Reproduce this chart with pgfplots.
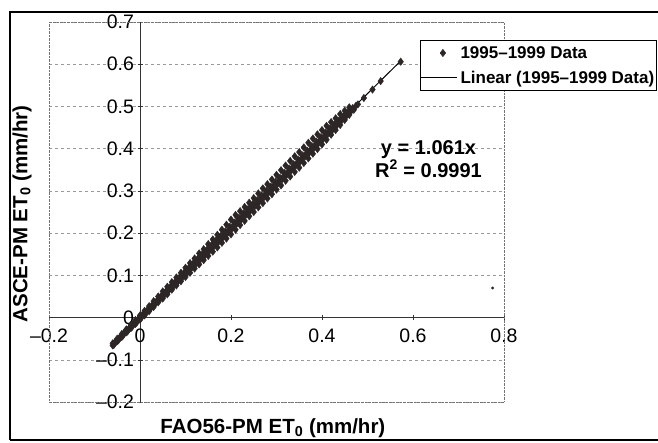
\documentclass[border=0pt]{standalone}
\usepackage{fontspec}
\setmainfont{Liberation Sans}
\usepackage{pgfplots}
\usepackage{pgfplotstable}
\pgfplotsset{compat=1.18}
\definecolor{band}{RGB}{45,38,38}
\pgfplotstableread{
x y
-0.06 -0.066
-0.06 -0.061
-0.055 -0.058
-0.05 -0.056
-0.05 -0.050
-0.045 -0.048
-0.04 -0.046
-0.04 -0.039
-0.035 -0.036
-0.03 -0.035
-0.03 -0.028
-0.025 -0.027
-0.02 -0.025
-0.02 -0.017
-0.015 -0.016
-0.01 -0.015
-0.01 -0.006
-0.005 -0.005
0 -0.005
0 0.005
0.005 0.006
0.01 0.005
0.01 0.016
0.015 0.015
0.02 0.015
0.02 0.027
0.025 0.027
0.03 0.025
0.03 0.039
0.035 0.036
0.04 0.036
0.04 0.050
0.045 0.049
0.05 0.045
0.05 0.062
0.055 0.058
0.06 0.055
0.06 0.073
0.065 0.070
0.07 0.066
0.07 0.084
0.075 0.079
0.08 0.076
0.08 0.095
0.085 0.091
0.09 0.086
0.09 0.106
0.095 0.100
0.10 0.096
0.10 0.118
0.105 0.112
0.11 0.106
0.11 0.129
0.115 0.123
0.12 0.116
0.12 0.140
0.125 0.133
0.13 0.126
0.13 0.152
0.135 0.145
0.14 0.136
0.14 0.162
0.145 0.155
0.15 0.146
0.15 0.174
0.155 0.166
0.16 0.156
0.16 0.185
0.165 0.176
0.17 0.166
0.17 0.196
0.175 0.188
0.18 0.177
0.18 0.208
0.185 0.197
0.19 0.187
0.19 0.220
0.195 0.207
0.20 0.197
0.20 0.232
0.205 0.218
0.21 0.208
0.21 0.243
0.215 0.230
0.22 0.219
0.22 0.252
0.225 0.240
0.23 0.229
0.23 0.262
0.235 0.250
0.24 0.240
0.24 0.272
0.245 0.262
0.25 0.250
0.25 0.283
0.255 0.271
0.26 0.261
0.26 0.294
0.265 0.282
0.27 0.271
0.27 0.306
0.275 0.292
0.28 0.282
0.28 0.316
0.285 0.303
0.29 0.292
0.29 0.327
0.295 0.314
0.30 0.303
0.30 0.338
0.305 0.324
0.31 0.313
0.31 0.349
0.315 0.334
0.32 0.324
0.32 0.360
0.325 0.345
0.33 0.334
0.33 0.371
0.335 0.356
0.34 0.345
0.34 0.382
0.345 0.366
0.35 0.355
0.35 0.392
0.355 0.377
0.36 0.366
0.36 0.403
0.365 0.388
0.37 0.377
0.37 0.414
0.375 0.398
0.38 0.388
0.38 0.424
0.385 0.409
0.39 0.399
0.39 0.434
0.395 0.420
0.40 0.410
0.40 0.444
0.405 0.430
0.41 0.421
0.41 0.454
0.415 0.441
0.42 0.433
0.42 0.463
0.425 0.451
0.43 0.444
0.43 0.472
0.435 0.461
0.44 0.456
0.44 0.482
0.445 0.472
0.45 0.468
0.45 0.490
0.455 0.483
0.46 0.480
0.46 0.498
0.465 0.492
0.47 0.492
0.475 0.502
0.479 0.505
0.492 0.520
0.511 0.540
0.529 0.560
0.573 0.606
-0.0575 -0.065
-0.0525 -0.056
-0.0475 -0.054
-0.0425 -0.045
-0.0375 -0.043
-0.0325 -0.034
-0.0275 -0.033
-0.0225 -0.024
-0.0175 -0.022
-0.0125 -0.013
-0.0075 -0.012
-0.0025 -0.003
0.0025 -0.001
0.0075 0.008
0.0125 0.010
0.0175 0.019
0.0225 0.020
0.0275 0.029
0.0325 0.031
0.0375 0.040
0.0425 0.041
0.0475 0.051
0.0525 0.052
0.0575 0.063
0.0625 0.063
0.0675 0.074
0.0725 0.073
0.0775 0.085
0.0825 0.084
0.0875 0.096
0.0925 0.094
0.0975 0.107
0.1025 0.105
0.1075 0.118
0.1125 0.116
0.1175 0.129
0.1225 0.126
0.1275 0.140
0.1325 0.137
0.1375 0.151
0.1425 0.147
0.1475 0.161
0.1525 0.158
0.1575 0.172
0.1625 0.169
0.1675 0.183
0.1725 0.179
0.1775 0.193
0.1825 0.190
0.1875 0.204
0.1925 0.200
0.1975 0.215
0.2025 0.211
0.2075 0.225
0.2125 0.222
0.2175 0.236
0.2225 0.232
0.2275 0.246
0.2325 0.243
0.2375 0.257
0.2425 0.253
0.2475 0.268
0.2525 0.264
0.2575 0.278
0.2625 0.275
0.2675 0.289
0.2725 0.285
0.2775 0.300
0.2825 0.296
0.2875 0.310
0.2925 0.306
0.2975 0.321
0.3025 0.317
0.3075 0.331
0.3125 0.328
0.3175 0.342
0.3225 0.338
0.3275 0.353
0.3325 0.349
0.3375 0.363
0.3425 0.360
0.3475 0.374
0.3525 0.370
0.3575 0.384
0.3625 0.381
0.3675 0.395
0.3725 0.391
0.3775 0.406
0.3825 0.402
0.3875 0.416
0.3925 0.413
0.3975 0.427
0.4025 0.423
0.4075 0.437
0.4125 0.434
0.4175 0.448
0.4225 0.444
0.4275 0.457
0.4325 0.455
0.4375 0.467
0.4425 0.466
0.4475 0.477
0.4525 0.476
0.4575 0.487
0.4625 0.487
0.4675 0.496
}\datatable
\begin{document}
\begin{tikzpicture}
\useasboundingbox (-49pt,-41pt) rectangle (609pt,402pt);
\fill[white] (-49pt,-41pt) rectangle (609pt,402pt);
\draw[line width=1.3pt] (-39pt,-38pt) -- (-39pt,390pt) -- (620pt,390pt);
\draw[line width=1.3pt] (-39pt,-38pt) -- (620pt,-38pt);
\begin{axis}[
  at={(0pt,0pt)}, anchor=south west,
  scale only axis, width=455pt, height=380pt,
  xmin=-0.2, xmax=0.8, ymin=-0.2, ymax=0.7,
  axis lines=middle,
  axis line style={-, black!80, line width=0.6pt},
  hide obscured x ticks=false, hide obscured y ticks=false,
  xtick={-0.2,0,0.2,0.4,0.6,0.8},
  xticklabels={–0.2,0,0.2,0.4,0.6,0.8},
  ytick={-0.2,-0.1,0,0.1,0.2,0.3,0.4,0.5,0.6,0.7},
  yticklabels={–0.2,–0.1,0,0.1,0.2,0.3,0.4,0.5,0.6,0.7},
  tick style={black!80, line width=0.5pt},
  major tick length=5pt,
  ticklabel style={font=\fontsize{19.5}{19.5}\selectfont},
  xticklabel style={yshift=-5pt},
  ymajorgrids, grid style={dashed, black!40, line width=0.5pt},
  clip=false,
  xlabel={FAO56-PM ET\textsubscript{0} (mm/hr)},
  ylabel={ASCE-PM ET\textsubscript{0} (mm/hr)},
  label style={font=\bfseries\fontsize{20.5}{20.5}\selectfont},
  xlabel style={at={(axis description cs:0.492,-0.068)}, anchor=center},
  ylabel style={at={(axis description cs:-0.0593,0.495)}, anchor=center, rotate=90},
  legend style={at={(axis description cs:0.8154,0.9526)}, anchor=north west,
    draw=black, line width=0.6pt, font=\bfseries\fontsize{17}{17}\selectfont,
    row sep=7pt, inner ysep=4pt, inner xsep=0pt,
    /tikz/every odd column/.append style={column sep=1pt}},
  legend cell align=left,
]
\draw[densely dotted, black!55] (rel axis cs:0,0) rectangle (rel axis cs:1,1);
\addplot[only marks, mark=diamond*, mark size=3.7pt, color=band,
  legend image code/.code={\draw[draw=none, mark=diamond*, mark size=3.6pt, fill=band] plot coordinates {(22pt,0pt)};}]
  table[x=x,y=y] {\datatable};
\addlegendentry{1995–1999 Data}
\addplot[black, line width=1pt,
  legend image code/.code={\draw[black, line width=1.2pt] (0pt,0pt) -- (36pt,0pt);}]
  coordinates {(-0.06,-0.0637) (0.575,0.610)};
\addlegendentry{Linear (1995–1999 Data)}
\addplot[only marks, mark=*, mark size=1.3pt, color=band, forget plot] coordinates {(0.775,0.070)};
\node[font=\bfseries\fontsize{20}{23}\selectfont, align=center] at (axis cs:0.634,0.376) {y = 1.061x\\R\textsuperscript{2} = 0.9991};
\end{axis}
\end{tikzpicture}
\end{document}
